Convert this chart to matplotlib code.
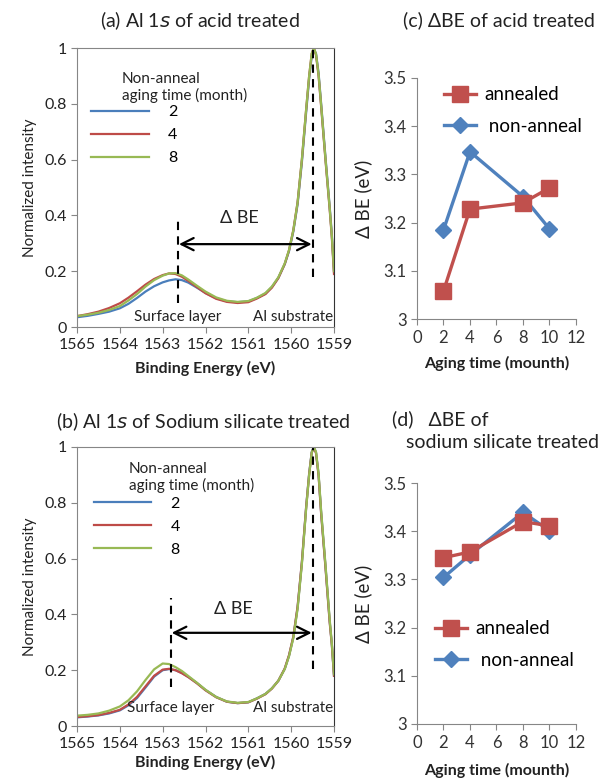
import matplotlib
matplotlib.use("Agg")
import matplotlib.pyplot as plt
from matplotlib.ticker import FixedLocator

plt.rcParams["font.family"] = ["Lato", "DejaVu Sans"]

# binding energy grid (eV) used for all spectra
ENERGY = [1565.0, 1564.75, 1564.5, 1564.25, 1564.0, 1563.8, 1563.6, 1563.4, 1563.2, 1563.0,
          1562.85, 1562.7, 1562.55, 1562.4, 1562.2, 1562.0, 1561.75, 1561.5, 1561.25, 1561.0,
          1560.8, 1560.6, 1560.45, 1560.3, 1560.15, 1560.05, 1559.95, 1559.85, 1559.75, 1559.65,
          1559.58, 1559.52, 1559.47, 1559.42, 1559.36, 1559.3, 1559.2, 1559.1, 1559.05, 1559.0]

# (a) acid treated, non-anneal, aging 2 / 4 / 8 months
ACID_2 = [0.035, 0.040, 0.047, 0.055, 0.067, 0.083, 0.104, 0.127, 0.146, 0.160,
          0.167, 0.171, 0.168, 0.159, 0.141, 0.122, 0.103, 0.092, 0.089, 0.092,
          0.104, 0.120, 0.143, 0.176, 0.225, 0.272, 0.342, 0.440, 0.590, 0.770,
          0.890, 0.970, 0.995, 0.980, 0.910, 0.800, 0.610, 0.430, 0.330, 0.200]
ACID_4 = [0.039, 0.046, 0.055, 0.068, 0.085, 0.105, 0.128, 0.152, 0.172, 0.186,
          0.192, 0.190, 0.180, 0.165, 0.143, 0.121, 0.101, 0.090, 0.086, 0.089,
          0.102, 0.118, 0.141, 0.175, 0.226, 0.275, 0.347, 0.447, 0.600, 0.780,
          0.900, 0.980, 1.000, 0.975, 0.900, 0.790, 0.600, 0.420, 0.320, 0.190]
ACID_8 = [0.039, 0.044, 0.051, 0.061, 0.075, 0.095, 0.118, 0.145, 0.168, 0.184,
          0.192, 0.193, 0.185, 0.170, 0.148, 0.127, 0.106, 0.094, 0.090, 0.093,
          0.105, 0.122, 0.145, 0.178, 0.228, 0.276, 0.346, 0.446, 0.600, 0.780,
          0.900, 0.980, 1.000, 0.978, 0.905, 0.795, 0.605, 0.425, 0.325, 0.200]

# (b) sodium silicate treated, non-anneal, aging 2 / 4 / 8 months
SILI_2 = [0.031, 0.034, 0.038, 0.045, 0.056, 0.074, 0.100, 0.138, 0.177, 0.200,
          0.204, 0.200, 0.190, 0.176, 0.154, 0.129, 0.104, 0.087, 0.082, 0.085,
          0.099, 0.115, 0.135, 0.162, 0.205, 0.252, 0.318, 0.425, 0.585, 0.785,
          0.905, 0.982, 1.000, 0.980, 0.900, 0.765, 0.575, 0.375, 0.292, 0.180]
SILI_4 = [0.032, 0.035, 0.039, 0.047, 0.058, 0.077, 0.104, 0.142, 0.180, 0.202,
          0.205, 0.200, 0.189, 0.175, 0.153, 0.128, 0.103, 0.087, 0.082, 0.085,
          0.098, 0.114, 0.134, 0.162, 0.206, 0.254, 0.320, 0.428, 0.588, 0.785,
          0.902, 0.980, 0.998, 0.978, 0.898, 0.760, 0.570, 0.370, 0.290, 0.180]
SILI_8 = [0.037, 0.040, 0.045, 0.055, 0.070, 0.092, 0.124, 0.165, 0.203, 0.224,
          0.222, 0.211, 0.197, 0.179, 0.155, 0.130, 0.104, 0.088, 0.083, 0.086,
          0.099, 0.115, 0.135, 0.162, 0.204, 0.250, 0.315, 0.420, 0.580, 0.780,
          0.900, 0.980, 1.000, 0.982, 0.905, 0.770, 0.580, 0.380, 0.295, 0.185]

# delta BE vs aging time
AGING = [2, 4, 8, 10]
ACID_ANNEALED = [3.058, 3.228, 3.241, 3.272]
ACID_NONANNEAL = [3.185, 3.347, 3.254, 3.187]
SILI_ANNEALED = [3.345, 3.357, 3.420, 3.411]
SILI_NONANNEAL = [3.304, 3.351, 3.439, 3.401]

SPEC_XTICKS = [1565, 1564, 1563, 1562, 1561, 1560, 1559]
SPEC_YTICKS = [0, 0.2, 0.4, 0.6, 0.8, 1.0]
SPEC_YLABELS = ["0", "0.2", "0.4", "0.6", "0.8", "1"]
DBE_XTICKS = [0, 2, 4, 6, 8, 10, 12]
DBE_YTICKS = [3.0, 3.1, 3.2, 3.3, 3.4, 3.5]
DBE_YLABELS = ["3", "3.1", "3.2", "3.3", "3.4", "3.5"]
MONTHS = ["2", "4", "8"]

BLUE = "#4A7EBB"
RED = "#BE4B48"
GREEN = "#98B954"
SQ_RED = "#C0504D"
DI_BLUE = "#4F81BD"
SPINE = "#868686"
TXT = "#222222"

W, H = 611, 780


def frac(left, top, right, bottom):
    return [left / W, 1 - bottom / H, (right - left) / W, (bottom - top) / H]


def spectrum_panel(fig, rect, series, title, title_xy, surf_e, surf_y, sub_y, arrow_y,
                   dbe_xy, label_y, leg_title_xy, leg_anchor, xlabel_y):
    ax = fig.add_axes(rect)
    for vals, color, lab in zip(series, [BLUE, RED, GREEN], MONTHS):
        ax.plot(ENERGY, vals, color=color, lw=1.6, label=lab)
    ax.set_xlim(1565, 1559)
    ax.set_ylim(0, 1)
    ax.xaxis.set_major_locator(FixedLocator(SPEC_XTICKS))
    ax.set_xticklabels([str(t) for t in SPEC_XTICKS])
    ax.set_yticks(SPEC_YTICKS)
    ax.set_yticklabels(SPEC_YLABELS)
    for s in ax.spines.values():
        s.set_color(SPINE)
        s.set_linewidth(0.8)
    ax.spines["right"].set_color("#333333")
    ax.tick_params(colors=SPINE, labelcolor=TXT, labelsize=11.5, length=4, width=0.8)
    ax.tick_params(axis="x", pad=4)
    ax.set_ylabel("Normalized intensity", fontsize=11, color=TXT, labelpad=5)

    # peak markers and delta BE arrow
    ax.plot([surf_e, surf_e], surf_y, color="black", lw=1.5, ls=(0, (4, 3)))
    ax.plot([1559.5, 1559.5], sub_y, color="black", lw=1.5, ls=(0, (4, 3)))
    ax.annotate("", xy=(1559.52, arrow_y), xytext=(surf_e - 0.02, arrow_y),
                arrowprops=dict(arrowstyle="<->", color="black", lw=1.6, mutation_scale=22,
                                shrinkA=0, shrinkB=0))
    ax.text(dbe_xy[0], dbe_xy[1], "\u0394 BE", fontsize=13, ha="center", va="center", color=TXT)
    ax.text(surf_e, label_y, "Surface layer", fontsize=11, ha="center", va="center", color=TXT)
    ax.text(1559.95, label_y, "Al substrate", fontsize=11, ha="center", va="center", color=TXT)

    ax.text(leg_title_xy[0], leg_title_xy[1], "Non-anneal\naging time (month)", transform=ax.transAxes,
            fontsize=11, ha="left", va="center", color=TXT, linespacing=1.2)
    ax.legend(loc="upper left", bbox_to_anchor=leg_anchor, frameon=False, fontsize=11.5,
              handlelength=3.6, handletextpad=1.2, borderpad=0, borderaxespad=0, labelspacing=0.55)
    fig.text(title_xy[0] / W, 1 - title_xy[1] / H, title, fontsize=14, ha="center", va="center", color=TXT)
    fig.text((rect[0] + rect[2] / 2), 1 - xlabel_y / H, "Binding Energy (eV)", fontsize=11.5,
             fontweight="bold", ha="center", va="center", color=TXT)
    return ax


def dbe_panel(fig, rect, annealed, nonanneal, leg_anchor, xlabel_y):
    ax = fig.add_axes(rect)
    ax.plot(AGING, annealed, color=SQ_RED, lw=2.4, marker="s", ms=11.5, mfc=SQ_RED, mec=SQ_RED,
            label="annealed", zorder=3)
    ax.plot(AGING, nonanneal, color=DI_BLUE, lw=2.4, marker="D", ms=8.5, mfc=DI_BLUE, mec=DI_BLUE,
            label=" non-anneal", zorder=2)
    ax.set_xlim(0, 12)
    ax.set_ylim(3.0, 3.5)
    ax.set_xticks(DBE_XTICKS)
    ax.set_yticks(DBE_YTICKS)
    ax.set_yticklabels(DBE_YLABELS)
    ax.spines["top"].set_visible(False)
    ax.spines["right"].set_visible(False)
    for side in ["left", "bottom"]:
        ax.spines[side].set_color(SPINE)
        ax.spines[side].set_linewidth(0.8)
    ax.tick_params(colors=SPINE, labelcolor="#333333", labelsize=12, length=4, width=0.8)
    ax.tick_params(axis="x", pad=4)
    ax.set_ylabel("\u0394 BE (eV)", fontsize=13.5, color=TXT, labelpad=8)
    ax.legend(loc="upper left", bbox_to_anchor=leg_anchor, frameon=False, fontsize=13.5,
              handlelength=1.7, handletextpad=0.45, borderpad=0, borderaxespad=0, labelspacing=0.78,
              numpoints=1)
    fig.text(rect[0] + rect[2] / 2, 1 - xlabel_y / H, "Aging time (mounth)", fontsize=11.5,
             fontweight="bold", ha="center", va="center", color=TXT)
    return ax


fig = plt.figure(figsize=(W / 100, H / 100), dpi=100)
fig.patch.set_facecolor("white")

spectrum_panel(fig, frac(77, 48, 334, 327), [ACID_2, ACID_4, ACID_8],
               "(a) Al 1$\\it{s}$ of acid treated", (200, 21),
               1562.64, [0.087, 0.39], [0.18, 1.0], 0.297, (1561.2, 0.39), 0.037,
               (0.175, 0.858), (0.055, 0.795), 368)
spectrum_panel(fig, frac(77, 447, 334, 726), [SILI_2, SILI_4, SILI_8],
               "(b) Al 1$\\it{s}$ of Sodium silicate treated", (203, 422),
               1562.81, [0.141, 0.457], [0.203, 1.0], 0.334, (1561.35, 0.42), 0.064,
               (0.202, 0.89), (0.065, 0.822), 762)

dbe_panel(fig, frac(417, 78, 576, 319), ACID_ANNEALED, ACID_NONANNEAL, (0.17, 0.965), 363)
dbe_panel(fig, frac(417, 483, 576, 724), SILI_ANNEALED, SILI_NONANNEAL, (0.115, 0.43), 770)

fig.text(499 / W, 1 - 20 / H, "(c) \u0394BE of acid treated", fontsize=14, ha="center", va="center", color=TXT)
fig.text(392 / W, 1 - 419 / H, "(d)   \u0394BE of", fontsize=14, ha="left", va="center", color=TXT)
fig.text(406 / W, 1 - 443 / H, "sodium silicate treated", fontsize=14, ha="left", va="center", color=TXT)

fig.savefig("out.png", dpi=100, facecolor="white")
